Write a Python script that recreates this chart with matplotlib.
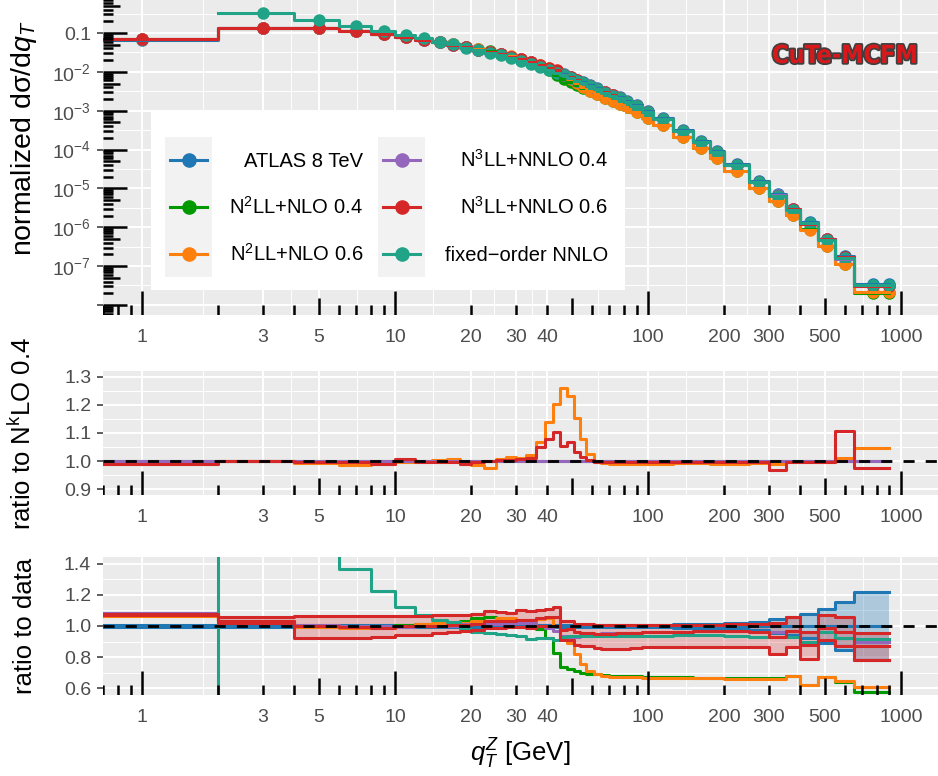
import numpy as np
import matplotlib
matplotlib.use("Agg")
import matplotlib.pyplot as plt
import matplotlib.patheffects as pe
from matplotlib import font_manager
from matplotlib.lines import Line2D
from matplotlib.patches import Rectangle
from matplotlib.ticker import FixedLocator, FixedFormatter, NullFormatter

plt.rcParams['font.family'] = ['Liberation Sans', 'DejaVu Sans']
plt.rcParams['mathtext.fontset'] = 'custom'
plt.rcParams['mathtext.rm'] = 'Liberation Sans'
plt.rcParams['mathtext.it'] = 'Liberation Sans:italic'
plt.rcParams['mathtext.bf'] = 'Liberation Sans:bold'

# ---- data ----
edges = np.array([0, 2, 4, 6, 8, 10, 12, 14, 16, 18, 20, 22.5, 25, 27.5, 30, 33, 36, 39, 42, 45,
                  48, 51, 54, 57, 61, 65, 70, 75, 80, 85, 95, 105, 125, 150, 175, 200, 250, 300,
                  350, 400, 470, 550, 650, 900])

# normalized ATLAS spectrum
atlas = np.array([0.066, 0.134, 0.132, 0.113, 0.094, 0.079, 0.068, 0.058, 0.050, 0.043,
                  0.037, 0.032, 0.028, 0.024, 0.0205, 0.0172, 0.0145, 0.0122, 0.0103,
                  0.0087, 0.0074, 0.0063, 0.0054, 0.0045, 0.0038, 0.0031, 0.0026, 0.0022, 0.0018, 0.0014,
                  0.00098, 0.00064, 0.00032, 0.000165, 0.00009, 4.2e-5, 1.55e-5, 7.0e-6, 3.0e-6, 1.4e-6,
                  5.0e-7, 1.8e-7, 3.5e-8])

# ratios to data (bottom panel)
data_ratio = np.ones(43)
data_hi = np.array([1.005] * 30 + [1.007, 1.008, 1.01, 1.012, 1.015, 1.02, 1.028, 1.043, 1.06,
                                   1.077, 1.107, 1.156, 1.22])
data_lo = np.array([0.995] * 30 + [0.993, 0.992, 0.99, 0.988, 0.985, 0.98, 0.972, 0.957, 0.94,
                                   0.923, 0.893, 0.844, 0.78])
n2ll04 = np.array([1.075, 1.035, 1.0, 1.0, 1.0, 1.005, 1.01, 1.015, 1.02, 1.03,
                   1.05, 1.055, 1.045, 1.035, 1.03, 1.02, 0.98, 0.92, 0.83,
                   0.74, 0.725, 0.71, 0.70, 0.695, 0.69, 0.685, 0.68, 0.68, 0.68, 0.68,
                   0.675, 0.675, 0.675, 0.67, 0.67, 0.665, 0.665, 0.665, 0.68, 0.625, 0.675, 0.64, 0.58])
n2ll06 = np.array([1.065, 1.035, 0.995, 0.988, 0.99, 1.0, 1.01, 1.018, 1.027, 1.02,
                   1.034, 1.03, 1.053, 1.05, 1.04, 1.04, 1.048, 1.05, 1.0,
                   0.932, 0.893, 0.82, 0.757, 0.712, 0.69, 0.68, 0.675, 0.673, 0.673, 0.673,
                   0.668, 0.668, 0.67, 0.665, 0.664, 0.658, 0.66, 0.658, 0.677, 0.624, 0.672, 0.646, 0.607])
n3ll04 = np.array([1.085, 1.035, 1.005, 1.0, 1.0, 0.995, 1.0, 1.0, 1.0, 1.01,
                   1.01, 1.015, 1.015, 1.02, 1.02, 1.02, 1.0, 0.985, 0.97,
                   0.935, 0.925, 0.93, 0.94, 0.95, 0.95, 0.955, 0.955, 0.955, 0.955, 0.955,
                   0.96, 0.96, 0.96, 0.965, 0.965, 0.965, 0.96, 0.96, 0.97, 0.89, 0.985, 0.87, 0.9])
n3ll06 = np.array([1.075, 1.035, 1.0, 0.995, 0.99, 1.0, 0.998, 1.0, 1.005, 1.005,
                   1.015, 1.03, 1.03, 1.035, 1.04, 1.04, 1.05, 1.06, 1.06,
                   0.975, 0.98, 0.96, 0.955, 0.955, 0.95, 0.95, 0.95, 0.955, 0.955, 0.955,
                   0.96, 0.96, 0.96, 0.965, 0.965, 0.965, 0.96, 0.93, 0.97, 0.88, 0.985, 0.96, 0.875])
n3ll06_hi = np.array([1.08, 1.055, 1.063, 1.063, 1.063, 1.065, 1.065, 1.068, 1.07, 1.07,
                      1.08, 1.095, 1.09, 1.085, 1.10, 1.095, 1.10, 1.11, 1.12,
                      1.03, 1.03, 1.015, 1.015, 1.015, 1.005, 1.005, 1.005, 1.005, 1.005, 1.005,
                      1.005, 1.005, 1.005, 1.005, 1.005, 1.01, 1.015, 1.017, 1.055, 0.964, 1.07, 1.06, 0.957])
n3ll06_lo = np.array([1.07, 1.018, 0.925, 0.925, 0.93, 0.94, 0.945, 0.955, 0.96, 0.965,
                      0.975, 0.985, 0.99, 0.995, 0.995, 0.99, 1.0, 1.0, 1.0,
                      0.91, 0.91, 0.88, 0.875, 0.875, 0.86, 0.855, 0.855, 0.855, 0.855, 0.86,
                      0.865, 0.865, 0.865, 0.865, 0.865, 0.865, 0.864, 0.82, 0.864, 0.787, 0.91, 0.87, 0.78])
fixed_nnlo = np.array([-0.5, 2.4, 1.6, 1.368, 1.225, 1.124, 1.07, 1.038, 1.024, 0.979,
                       0.964, 0.957, 0.949, 0.943, 0.938, 0.915, 0.923, 0.921, 0.91,
                       0.932, 0.935, 0.935, 0.936, 0.936, 0.937, 0.937, 0.937, 0.938, 0.938, 0.938,
                       0.938, 0.938, 0.94, 0.94, 0.942, 0.935, 0.932, 0.932, 0.93, 0.9, 0.964, 0.921, 0.918])

# ratios to N^kLO 0.4 (middle panel)
mid_n2ll06 = np.array([0.99, 1.0, 0.993, 0.987, 0.99, 0.995, 1.0, 1.003, 1.007, 0.99,
                       0.985, 0.975, 1.008, 1.015, 1.01, 1.02, 1.069, 1.14, 1.204,
                       1.26, 1.232, 1.153, 1.08, 1.025, 0.998, 0.993, 0.99, 0.99, 0.99, 0.99,
                       0.99, 0.99, 0.992, 0.992, 0.99, 0.99, 0.992, 0.99, 0.995, 0.998, 0.995, 1.01, 1.046])
mid_n3ll06 = np.array([0.99, 1.0, 0.995, 0.995, 0.988, 1.006, 0.995, 0.995, 0.998, 0.99,
                       0.995, 1.0, 1.005, 1.005, 1.008, 1.01, 1.05, 1.08, 1.105,
                       1.054, 1.069, 1.033, 1.014, 1.004, 0.997, 0.995, 0.995, 0.997, 0.997, 0.997,
                       0.998, 0.998, 0.997, 0.998, 0.997, 0.998, 0.998, 0.968, 0.998, 0.998, 0.998, 1.108, 0.974])
mid_ref = np.ones(43)  # 0.4 curves divided by themselves

labels = ['ATLAS 8 TeV', 'N$^2$LL+NLO 0.4', 'N$^2$LL+NLO 0.6',
          'N$^3$LL+NNLO 0.4', 'N$^3$LL+NNLO 0.6', 'fixed\u2212order NNLO']
colors = ['#1f77b4', '#009a00', '#ff7f0e', '#9467bd', '#d62728', '#20a386']

xbreaks = [1, 3, 5, 10, 20, 30, 40, 100, 200, 300, 500, 1000]
xticklabels = ['1', '3', '5', '10', '20', '30', '40', '100', '200', '300', '500', '1000']
top_breaks = [1e-1, 1e-2, 1e-3, 1e-4, 1e-5, 1e-6, 1e-7, 1e-8]
top_labels = ['0.1', '10$^{-2}$', '10$^{-3}$', '10$^{-4}$', '10$^{-5}$', '10$^{-6}$', '10$^{-7}$', '']
mid_breaks = [0.9, 1.0, 1.1, 1.2, 1.3]
mid_labels = ['0.9', '1.0', '1.1', '1.2', '1.3']
bot_breaks = [0.6, 0.8, 1.0, 1.2, 1.4]
bot_labels = ['0.6', '0.8', '1.0', '1.2', '1.4']

# ---- figure ----
W, H = 938, 776
fig = plt.figure(figsize=(W / 100, H / 100), dpi=100)


def fx(px):
    return px / W


def fy(py):
    return 1 - py / H


def panel(top, bottom):
    return fig.add_axes([fx(103), fy(bottom), (W - 103) / W, (bottom - top) / H])


ax1 = panel(0, 315)
ax2 = panel(371, 495)
ax3 = panel(557, 695)


def style(ax, ybreaks, ylabels, yminor, ylim, logy=False):
    ax.set_facecolor('#EBEBEB')
    for s in ax.spines.values():
        s.set_visible(False)
    ax.set_xscale('log')
    if logy:
        ax.set_yscale('log')
    ax.set_xlim(0.70, 1400)
    ax.set_ylim(*ylim)
    ax.xaxis.set_major_locator(FixedLocator(xbreaks))
    ax.xaxis.set_major_formatter(FixedFormatter(xticklabels))
    xb = np.array(xbreaks, dtype=float)
    ax.xaxis.set_minor_locator(FixedLocator(np.sqrt(xb[:-1] * xb[1:])))
    ax.xaxis.set_minor_formatter(NullFormatter())
    ax.yaxis.set_major_locator(FixedLocator(ybreaks))
    ax.yaxis.set_major_formatter(FixedFormatter(ylabels))
    ax.yaxis.set_minor_locator(FixedLocator(yminor))
    ax.yaxis.set_minor_formatter(NullFormatter())
    ax.grid(which='major', color='white', lw=1.4)
    ax.grid(which='minor', color='white', lw=0.7)
    ax.set_axisbelow(True)
    ax.tick_params(axis='x', which='both', length=0, pad=10, labelsize=14, labelcolor='#4D4D4D')
    ax.tick_params(axis='y', which='major', length=4.5, width=1.1, color='#333333', pad=4,
                   labelsize=14, labelcolor='#4D4D4D')
    ax.tick_params(axis='y', which='minor', length=0)


def logticks(ax, h_px, w_px, left=False):
    lens = {1: 24, 5: 17}
    x0, x1 = ax.get_xlim()
    for n in range(-1, 4):
        for k in range(1, 10):
            v = k * 10.0 ** n
            if x0 * 0.999 <= v <= x1:
                ax.plot([v, v], [0, lens.get(k, 10) / h_px], color='black', lw=1.8,
                        solid_capstyle='butt', transform=ax.get_xaxis_transform(), zorder=4)
    if left:
        y0, y1 = ax.get_ylim()
        for n in range(-9, 1):
            for k in range(1, 10):
                v = k * 10.0 ** n
                if y0 <= v <= y1:
                    ax.plot([0, lens.get(k, 10) / w_px], [v, v], color='black', lw=1.8,
                            solid_capstyle='butt', transform=ax.get_yaxis_transform(), zorder=4)


style(ax1, top_breaks, top_labels, [10 ** (-n - 0.5) for n in range(0, 8)], (5.5e-9, 0.708), logy=True)
style(ax2, mid_breaks, mid_labels, [0.95, 1.05, 1.15, 1.25], (0.879, 1.321))
style(ax3, bot_breaks, bot_labels, [0.7, 0.9, 1.1, 1.3], (0.558, 1.442))

# step helpers
xs = np.append(np.clip(edges[:-1], 0.3, None), edges[-1])
mids = np.append((edges[:-1] + edges[1:]) / 2, edges[-1])


def ext(v):
    return np.append(v, v[-1])


# ---- top panel ----
ratios = [data_ratio, n2ll04, n2ll06, n3ll04, n3ll06, fixed_nnlo]
top_series = []
for r in ratios:
    v = atlas * r
    top_series.append(np.where(v > 0, v, np.nan))
for v, c in zip(top_series, colors):
    ax1.plot(mids, ext(v), 'o', ms=9, color=c, mew=0, zorder=2)
for v, c in zip(top_series, colors):
    ax1.step(xs, ext(v), where='post', color=c, lw=2.2, zorder=3)
logticks(ax1, 315, W - 103, left=True)

# ---- middle panel ----
ax2.step(xs, ext(mid_ref), where='post', color=colors[1], lw=2.2)
ax2.step(xs, ext(mid_n2ll06), where='post', color=colors[2], lw=2.2)
ax2.step(xs, ext(mid_ref), where='post', color=colors[3], lw=2.2)
ax2.step(xs, ext(mid_n3ll06), where='post', color=colors[4], lw=2.2)
ax2.axhline(1.0, color='black', lw=2, ls=(0, (4, 4)), zorder=5)
logticks(ax2, 124, W - 103)

# ---- bottom panel ----
ax3.fill_between(xs, ext(data_lo), ext(data_hi), step='post', color=colors[0], alpha=0.3, lw=0)
ax3.fill_between(xs, ext(n3ll06_lo), ext(n3ll06_hi), step='post', color=colors[4], alpha=0.25, lw=0)
for v in (data_lo, data_hi, data_ratio):
    ax3.step(xs, ext(v), where='post', color=colors[0], lw=2.2)
ax3.step(xs, ext(n2ll04), where='post', color=colors[1], lw=2.2)
ax3.step(xs, ext(n2ll06), where='post', color=colors[2], lw=2.2)
ax3.step(xs, ext(n3ll04), where='post', color=colors[3], lw=2.2)
ax3.step(xs, ext(fixed_nnlo), where='post', color=colors[5], lw=2.2)
for v in (n3ll06_lo, n3ll06_hi, n3ll06):
    ax3.step(xs, ext(v), where='post', color=colors[4], lw=2.2)
ax3.axhline(1.0, color='black', lw=2, ls=(0, (4, 4)), zorder=5)
logticks(ax3, 138, W - 103)

# ---- axis titles ----
fig.text(fx(24), fy(138), 'normalized d\u03c3/d$q_T$', rotation=90, ha='center', va='center', fontsize=20.5)
fig.text(fx(22), fy(433), 'ratio to N$^{\\mathrm{k}}$LO 0.4', rotation=90, ha='center', va='center', fontsize=18.5)
fig.text(fx(25), fy(626), 'ratio to data', rotation=90, ha='center', va='center', fontsize=18.5)
fig.text(fx(520), fy(754), '$q_T^Z$ [GeV]', ha='center', va='center', fontsize=18.5)

# ---- legend ----
fig.add_artist(Rectangle((fx(151), fy(290)), (625 - 151) / W, (290 - 112) / H,
                         transform=fig.transFigure, facecolor='white', edgecolor='none', zorder=10))
key_x = [165, 378]
text_right = [363, 608]
rows = [160, 207, 254]
for kx in key_x:
    fig.add_artist(Rectangle((fx(kx), fy(277)), 47 / W, 140 / H, transform=fig.transFigure,
                             facecolor='#F2F2F2', edgecolor='none', zorder=11))
for i, (lab, c) in enumerate(zip(labels, colors)):
    col, row = divmod(i, 3)
    kx, ky = key_x[col], rows[row]
    fig.add_artist(Line2D([fx(kx + 5), fx(kx + 42)], [fy(ky), fy(ky)], transform=fig.transFigure,
                          color=c, lw=2.2, zorder=12))
    fig.add_artist(Line2D([fx(kx + 23.5)], [fy(ky)], marker='o', ms=10.5, color=c, mew=0,
                          transform=fig.transFigure, zorder=13))
    fig.text(fx(text_right[col]), fy(ky + 7), lab, ha='right', va='baseline', fontsize=14.5, zorder=13)

# ---- logo ----
names = {f.name for f in font_manager.fontManager.ttflist}
if 'Liberation Sans Narrow' in names:
    logo_kw = dict(family='Liberation Sans Narrow', fontsize=24.5)
else:
    logo_kw = dict(family='DejaVu Sans', fontstretch='condensed', fontsize=18)
fig.text(fx(845), fy(63), 'CuTe-MCFM', ha='center', va='baseline', color='#d7191c', fontweight='bold',
         path_effects=[pe.withStroke(linewidth=2.5, foreground='#404040')], zorder=14, **logo_kw)

fig.savefig('out.png', dpi=100)
